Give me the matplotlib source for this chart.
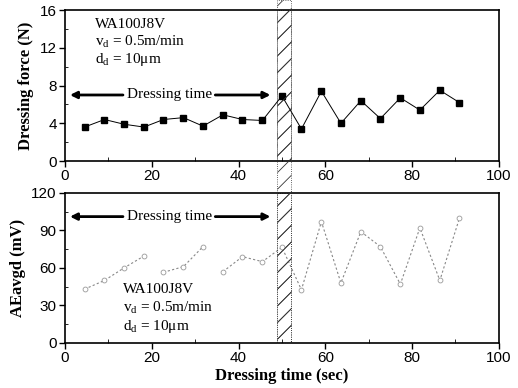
import numpy as np
import matplotlib.pyplot as plt
from matplotlib.patches import Rectangle
from matplotlib.transforms import blended_transform_factory

# dressing time (sec) for each sample
t = [4.5, 9.1, 13.6, 18.2, 22.7, 27.3, 31.8, 36.4, 40.9, 45.5,
     50.0, 54.5, 59.1, 63.6, 68.2, 72.7, 77.3, 81.8, 86.4, 90.9]
force = [3.6, 4.4, 3.9, 3.6, 4.4, 4.6, 3.7, 4.9, 4.4, 4.3,
         6.9, 3.4, 7.4, 4.0, 6.4, 4.5, 6.7, 5.4, 7.5, 6.2]
# faint scanned line has gaps between some points
ae = [43, 50, 60, 69.5, np.nan, 56.5, 61, 77, np.nan, 57,
      69, 65, 76.5, 42.5, 97, 48, 89, 77, 47, 92, 50, 99.5]
t_ae = [4.5, 9.1, 13.6, 18.2, 20.0, 22.7, 27.3, 31.8, 34.0, 36.4,
        40.9, 45.5, 50.0, 54.5, 59.1, 63.6, 68.2, 72.7, 77.3, 81.8, 86.4, 90.9]
band = (48.8, 52.0)

serif = 'Liberation Serif'
plt.rcParams['font.family'] = 'Liberation Sans'
plt.rcParams['mathtext.fontset'] = 'custom'
plt.rcParams['mathtext.rm'] = serif
plt.rcParams['mathtext.it'] = serif + ':italic'
plt.rcParams['hatch.linewidth'] = 0.6

fig = plt.figure(figsize=(5.18, 3.88), dpi=100)
ax1 = fig.add_axes([0.1255, 0.585, 0.8375, 0.389])
ax2 = fig.add_axes([0.1255, 0.116, 0.8375, 0.387])

ax1.plot(t, force, color='black', lw=0.7, marker='s', ms=4.5)
ax2.plot(t_ae, ae, color='#888888', lw=0.8, ls=(0, (2, 2)), marker='o',
         ms=3.5, mfc='white', mec='#999999', mew=0.6)

ax1.set_xlim(0, 100)
ax1.set_ylim(0, 16)
ax1.set_yticks([0, 4, 8, 12, 16])
ax2.set_xlim(0, 100)
ax2.set_ylim(0, 120)
ax2.set_yticks([0, 30, 60, 90, 120])

for ax in (ax1, ax2):
    ax.set_xticks([0, 20, 40, 60, 80, 100])
    ax.set_xticks([10, 30, 50, 70, 90], minor=True)
    ax.tick_params(labelsize=11, width=1, length=4, pad=2)
    ax.tick_params(which='minor', direction='in', length=3)
    for s in ax.spines.values():
        s.set_linewidth(1.2)
    ax.axvspan(band[0], band[1], facecolor='none', edgecolor='#333333',
               hatch='//', lw=0.6, ls=':')

ax1.set_yticks([2, 6, 10, 14], minor=True)
ax2.set_yticks([15, 45, 75, 105], minor=True)
ax1.tick_params(which='minor', axis='y', direction='in', length=2)
ax2.tick_params(which='minor', axis='y', direction='in', length=2)

# hatched band bridging the gap between the two panels
tr = blended_transform_factory(ax1.transData, fig.transFigure)
fig.add_artist(Rectangle((band[0], 0.116), band[1] - band[0], 0.884,
                         transform=tr, facecolor='none', edgecolor='#333333',
                         hatch='//', lw=0.6, ls=':'))

# "Dressing time" arrows
for ax, y in ((ax1, 7.0), (ax2, 101)):
    ax.annotate('', xy=(0.5, y), xytext=(14, y),
                arrowprops=dict(arrowstyle='-|>', lw=2, color='black',
                                mutation_scale=10))
    ax.annotate('', xy=(48, y), xytext=(34, y),
                arrowprops=dict(arrowstyle='-|>', lw=2, color='black',
                                mutation_scale=10))
    ax.text(24, y, 'Dressing time', family=serif, fontsize=11,
            ha='center', va='center')

ax1.text(6.8, 14.5, 'WA100J8V', family=serif, fontsize=11, va='center')
ax1.text(6.8, 12.6, r'v$_{\rm d}$ = 0.5m/min', family=serif, fontsize=11, va='center')
ax1.text(6.8, 10.8, r'd$_{\rm d}$ = 10$\mathrm{\mu}$m', family=serif, fontsize=11, va='center')
ax2.text(13.4, 43, 'WA100J8V', family=serif, fontsize=11, va='center')
ax2.text(13.4, 28, r'v$_{\rm d}$ = 0.5m/min', family=serif, fontsize=11, va='center')
ax2.text(13.4, 13, r'd$_{\rm d}$ = 10$\mathrm{\mu}$m', family=serif, fontsize=11, va='center')

ax1.set_ylabel('Dressing force (N)', family=serif, fontweight='bold', fontsize=12, labelpad=4)
ax2.set_ylabel('AEavgd (mV)', family=serif, fontweight='bold', fontsize=12, labelpad=4)
ax2.set_xlabel('Dressing time (sec)', family=serif, fontweight='bold', fontsize=12, labelpad=2)

fig.savefig('out.png', dpi=100)
